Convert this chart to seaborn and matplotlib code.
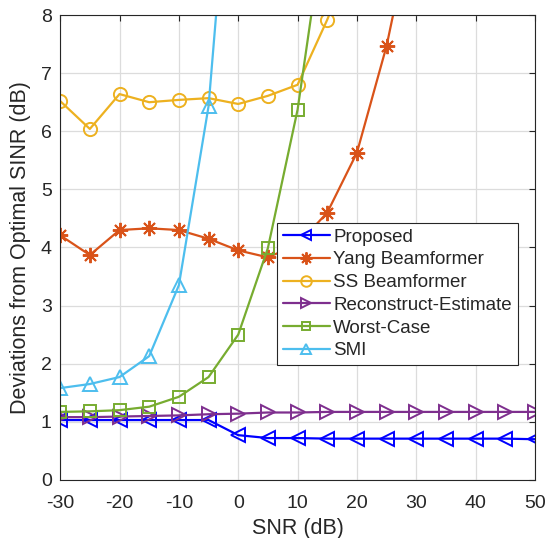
import numpy as np
import pandas as pd
import matplotlib
matplotlib.use('Agg')
import matplotlib.pyplot as plt
import seaborn as sns

# ── Data ────────────────────────────────────────────────────────────────────
snr = [-30, -25, -20, -15, -10, -5, 0, 5, 10, 15, 20, 25, 30, 35, 40, 45, 50]

proposed = [1.03, 1.03, 1.03, 1.03, 1.03, 1.03, 0.77, 0.72, 0.72, 0.71, 0.71,
            0.71, 0.71, 0.71, 0.71, 0.71, 0.70]
yang_x = [-30, -25, -20, -15, -10, -5, 0, 5, 10, 15, 20, 25, 30]
yang = [4.21, 3.87, 4.30, 4.33, 4.30, 4.15, 3.95, 3.83, 4.05, 4.60, 5.63, 7.47, 9.9]
ss_x = [-30, -25, -20, -15, -10, -5, 0, 5, 10, 15, 20]
ss = [6.52, 6.04, 6.64, 6.50, 6.54, 6.57, 6.47, 6.61, 6.80, 7.92, 9.2]
recon = [1.08, 1.08, 1.09, 1.10, 1.11, 1.13, 1.14, 1.16, 1.16, 1.17, 1.17,
         1.17, 1.17, 1.17, 1.17, 1.17, 1.17]
worst_x = [-30, -25, -20, -15, -10, -5, 0, 5, 10, 15]
worst = [1.17, 1.18, 1.20, 1.26, 1.43, 1.77, 2.50, 3.99, 6.37, 9.9]
smi_x = [-30, -25, -20, -15, -10, -5, 0]
smi = [1.58, 1.65, 1.77, 2.13, 3.35, 6.43, 12.6]

ASTERISK = (8, 2, 0)
series = [
    ('Proposed', snr, proposed, '<', '#0000FF'),
    ('Yang Beamformer', yang_x, yang, ASTERISK, '#D95319'),
    ('SS Beamformer', ss_x, ss, 'o', '#EDB120'),
    ('Reconstruct-Estimate', snr, recon, '>', '#7E2F8E'),
    ('Worst-Case', worst_x, worst, 's', '#77AC30'),
    ('SMI', smi_x, smi, '^', '#4DBEEE'),
]

sns.set_style('white')
plt.rcParams['font.family'] = ['Liberation Sans', 'DejaVu Sans']
plt.rcParams['axes.unicode_minus'] = False

fig = plt.figure(figsize=(5.47, 5.38), dpi=100)
ax = fig.add_axes([0.110, 0.108, 0.868, 0.864])

for name, xs, ys, mk, col in series:
    ms = 11 if mk == ASTERISK else (8 if mk == 's' else 9.5)
    sns.lineplot(x=xs, y=ys, ax=ax, color=col, linewidth=1.6, marker=mk,
                 markersize=ms, markerfacecolor='none', markeredgecolor=col,
                 markeredgewidth=1.4, label=name)

ax.set_xlim(-30, 50)
ax.set_ylim(0, 8)
ax.set_xticks(np.arange(-30, 51, 10))
ax.set_yticks(np.arange(0, 9, 1))
ax.grid(True, color='#dcdcdc', linewidth=0.9)
ax.set_axisbelow(True)
ax.tick_params(direction='in', length=4, top=True, right=True,
               labelsize=14, colors='#262626', width=0.8)
ax.tick_params(axis='x', pad=11)
ax.tick_params(axis='y', pad=6)
for sp in ax.spines.values():
    sp.set_color('#262626')
    sp.set_linewidth(0.8)
ax.set_xlabel('SNR (dB)', fontsize=15.5, color='#262626', labelpad=4)
ax.set_ylabel('Deviations from Optimal SINR (dB)', fontsize=15.5,
              color='#262626', labelpad=7)

leg = ax.legend(loc='upper left', bbox_to_anchor=(0.457, 0.553), fontsize=13.5,
                frameon=True, fancybox=False, edgecolor='#262626', framealpha=1,
                borderpad=0.3, labelspacing=0.3, handlelength=2.5,
                handletextpad=0.2, borderaxespad=0, markerscale=0.8)
leg.get_frame().set_linewidth(0.8)

plt.savefig('out.png', dpi=100, facecolor='white')
